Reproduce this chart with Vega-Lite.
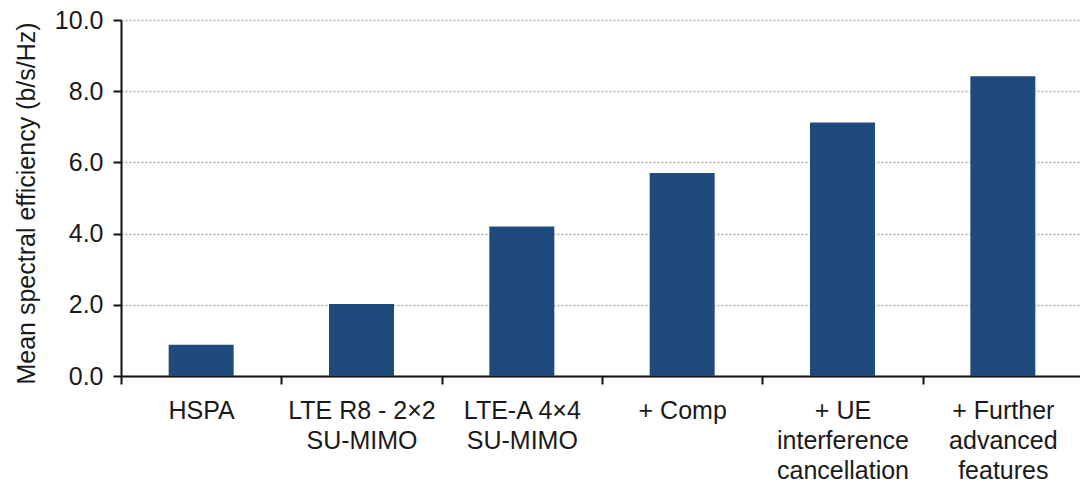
{
  "$schema": "https://vega.github.io/schema/vega-lite/v6.json",
  "autosize": "none",
  "padding": {"left": 121, "top": 20, "right": 0, "bottom": 108},
  "width": 962,
  "height": 356,
  "background": "white",
  "config": {"view": {"stroke": null}, "font": "Liberation Sans"},
  "data": {"values": [
    {"label": "HSPA", "value": 0.88},
    {"label": "LTE R8 - 2×2|SU-MIMO", "value": 2.02},
    {"label": "LTE-A 4×4|SU-MIMO", "value": 4.2},
    {"label": "+ Comp", "value": 5.7},
    {"label": "+ UE|interference|cancellation", "value": 7.12},
    {"label": "+ Further|advanced|features", "value": 8.42}
  ]},
  "mark": {"type": "bar", "color": "#1f4a7c", "width": 65},
  "encoding": {
    "x": {
      "field": "label", "type": "nominal", "sort": null,
      "scale": {"paddingInner": 0, "paddingOuter": 0},
      "axis": {
        "title": null, "labelAngle": 0, "tickBand": "extent",
        "labelExpr": "split(datum.label, '|')",
        "labelFontSize": 25, "labelLineHeight": 30, "labelColor": "#1a1a1a",
        "labelPadding": 14, "tickSize": 8, "tickColor": "#111", "tickWidth": 2,
        "domainColor": "#111", "domainWidth": 2, "labelLimit": 300
      }
    },
    "y": {
      "field": "value", "type": "quantitative",
      "scale": {"domain": [0, 10], "nice": false},
      "axis": {
        "title": "Mean spectral efficiency (b/s/Hz)",
        "titleFontSize": 25, "titleFontWeight": "normal", "titleColor": "#1a1a1a",
        "titleX": -95, "titleY": 183, "titleBaseline": "middle", "titleAngle": -90,
        "values": [0, 2, 4, 6, 8, 10], "format": ".1f",
        "labelFontSize": 25, "labelColor": "#1a1a1a", "labelPadding": 10,
        "tickSize": 8, "tickColor": "#111", "tickWidth": 2,
        "domainColor": "#111", "domainWidth": 2,
        "grid": true, "gridColor": "#b0b0b0", "gridDash": [2, 2], "gridWidth": 1.5
      }
    }
  }
}
